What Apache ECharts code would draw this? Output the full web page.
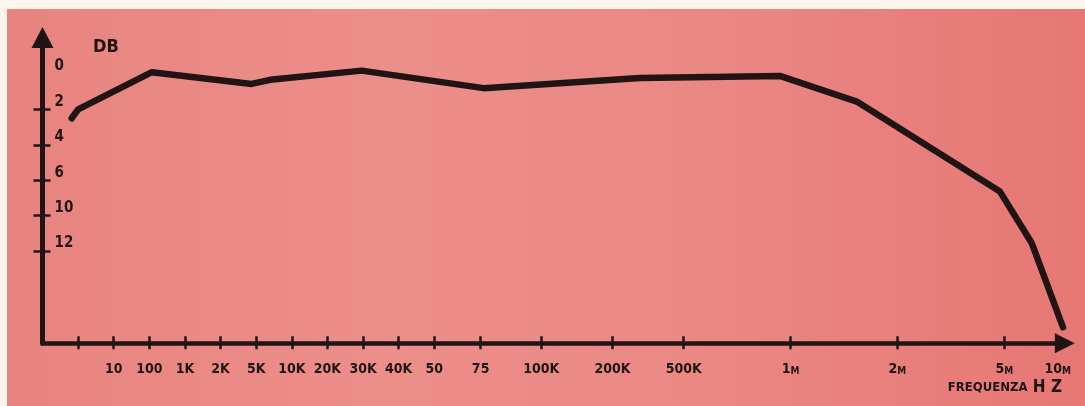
<!DOCTYPE html>
<html>
<head>
<meta charset="utf-8">
<script src="https://cdn.jsdelivr.net/npm/echarts@6/dist/echarts.min.js"></script>
<style>
  html, body { margin: 0; padding: 0; background: #fbf5ec; overflow: hidden; }
  #paper {
    position: absolute; left: 7px; top: 9px; right: 0; bottom: 0;
    background: linear-gradient(90deg, #e8847f 0%, #ec8e8a 35%, #ea8884 65%, #e67774 100%);
  }
  #chart { position: absolute; left: 0; top: 0; width: 1085px; height: 406px; }
</style>
</head>
<body>
<div id="paper"></div>
<div id="chart"></div>
<script>
// Frequency ruler: every tick mark, in ruler steps (the scale is hand-spaced, not logarithmic)
const xTickSteps = [1, 2, 3, 4, 5, 6, 7, 8, 9, 10, 11, 12.3, 14, 16, 18, 21, 24, 27];
// Labelled frequencies and the ruler step each one sits on
const xLabels     = ['10', '100', '1K', '2K', '5K', '10K', '20K', '30K', '40K', '50', '75', '100K', '200K', '500K', '1M', '2M', '5M', '10M'];
const xLabelSteps = [2, 3, 4, 5, 6, 7, 8, 9, 10, 11, 12.3, 14, 16, 18, 21, 24, 27, 28.5];

// Attenuation ruler, one rung per label (dB)
const yTickLabels = ['0', '2', '4', '6', '10', '12'];

// Response curve: ruler step and attenuation in dB
const curveSteps = [0.82, 1.0, 3.07, 5.87, 6.39, 8.96, 12.38, 16.77, 20.7, 22.86, 26.88, 27.77, 28.65];
const curveDb    = [2.5, 2.0, -0.1, 0.56, 0.33, -0.19, 0.8, 0.22, 0.11, 1.56, 7.28, 11.54, 16.3];

const INK = '#201514';
const FONT = '"DejaVu Sans Condensed", "DejaVu Sans", sans-serif';

// dB -> rung on the attenuation ruler (piecewise between labelled rungs)
const yTickDb = yTickLabels.map(Number);
function dbToRung(db) {
  const n = yTickDb.length;
  let i = n - 2;
  for (let k = 0; k < n - 1; k++) {
    if (db <= yTickDb[k + 1]) { i = k; break; }
  }
  const a = yTickDb[i], b = yTickDb[i + 1];
  return i + (db - a) / (b - a);
}
// rungs run downwards from 0 dB
const yRungValues = yTickLabels.map((_, i) => -i);

const Y_MIN = -7.6, Y_MAX = 1.03;
const X_MIN = 0, X_MAX = 28.7;

function xLabelText(v) {
  const i = xLabelSteps.findIndex(s => Math.abs(s - v) < 1e-6);
  if (i < 0) return '';
  const t = xLabels[i];
  if (t.endsWith('M')) return t.slice(0, -1) + '{m|M}';
  return t;
}

const chart = echarts.init(document.getElementById('chart'), null, { renderer: 'canvas' });

chart.setOption({
  backgroundColor: 'transparent',
  animation: false,
  title: [
    {
      text: 'DB', left: 88, top: 33,
      textStyle: { color: INK, fontFamily: FONT, fontWeight: 'bold', fontSize: 18 }
    },
    {
      text: '{a|FREQUENZA}{b| H Z}', right: 18, top: 374,
      textStyle: {
        rich: {
          a: { color: INK, fontFamily: FONT, fontWeight: 'bold', fontSize: 13 },
          b: { color: INK, fontFamily: FONT, fontWeight: 'bold', fontSize: 17 }
        }
      }
    }
  ],
  grid: { left: 42.5, right: 20.2, top: 37.5, bottom: 62.8, containLabel: false, outerBoundsMode: 'none' },
  xAxis: [
    {
      type: 'value', min: X_MIN, max: X_MAX, position: 'bottom',
      axisLine: {
        show: true, onZero: false,
        symbol: ['none', 'triangle'], symbolSize: [20, 20],
        lineStyle: { color: INK, width: 4.5 }
      },
      axisTick: { show: true, customValues: xTickSteps, length: 6, lineStyle: { color: INK, width: 2.5 } },
      axisLabel: {
        show: true, customValues: xLabelSteps, margin: 19,
        color: INK, fontFamily: FONT, fontWeight: 'bold', fontSize: 14,
        formatter: xLabelText,
        rich: { m: { color: INK, fontFamily: FONT, fontWeight: 'bold', fontSize: 10, verticalAlign: 'bottom' } }
      },
      splitLine: { show: false }
    },
    {
      // upper half of the crossing tick marks
      type: 'value', min: X_MIN, max: X_MAX, position: 'bottom',
      axisLine: { show: false, onZero: false },
      axisTick: { show: true, inside: true, customValues: xTickSteps, length: 7, lineStyle: { color: INK, width: 2.5 } },
      axisLabel: { show: false, customValues: xTickSteps },
      splitLine: { show: false }
    }
  ],
  yAxis: [
    {
      type: 'value', min: Y_MIN, max: Y_MAX, position: 'left',
      axisLine: {
        show: true, onZero: false,
        symbol: ['none', 'triangle'], symbolSize: [22, 21],
        lineStyle: { color: INK, width: 5 }
      },
      axisTick: { show: true, customValues: yRungValues.slice(1), length: 9, lineStyle: { color: INK, width: 2.5 } },
      axisLabel: {
        show: true, inside: true, margin: 12, customValues: yRungValues,
        verticalAlign: 'bottom', align: 'left',
        color: INK, fontFamily: FONT, fontWeight: 'bold', fontSize: 15,
        formatter: v => yTickLabels[Math.round(-v)] ?? ''
      },
      splitLine: { show: false }
    },
    {
      // right half of the crossing tick marks
      type: 'value', min: Y_MIN, max: Y_MAX, position: 'left',
      axisLine: { show: false, onZero: false },
      axisTick: { show: true, inside: true, customValues: yRungValues.slice(1), length: 8, lineStyle: { color: INK, width: 2.5 } },
      axisLabel: { show: false, customValues: yRungValues.slice(1) },
      splitLine: { show: false }
    }
  ],
  series: [
    {
      type: 'line',
      xAxisIndex: 0, yAxisIndex: 0,
      data: curveSteps.map((s, i) => [s, -dbToRung(curveDb[i])]),
      showSymbol: false,
      smooth: false,
      lineStyle: { color: INK, width: 6.5, join: 'round', cap: 'round' },
      z: 3
    }
  ]
});
</script>
</body>
</html>
